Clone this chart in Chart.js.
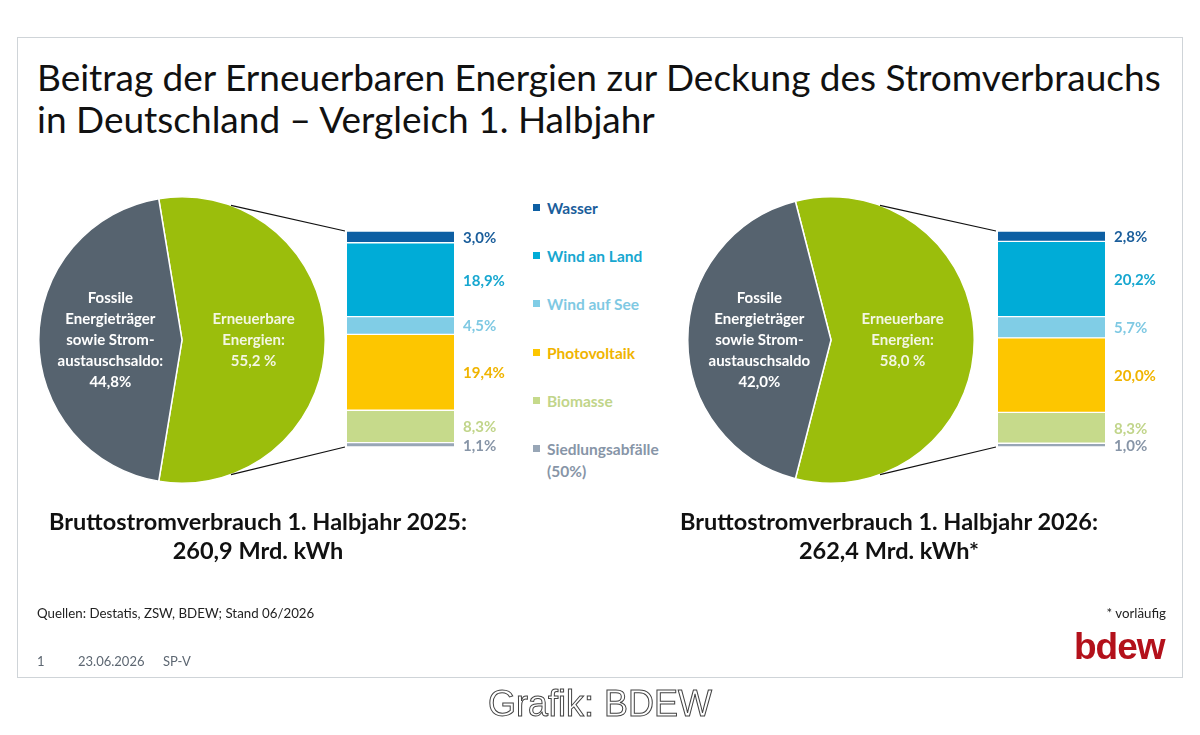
<!DOCTYPE html>
<html lang="de">
<head>
<meta charset="utf-8">
<title>Beitrag der Erneuerbaren Energien zur Deckung des Stromverbrauchs</title>
<script src="https://cdn.jsdelivr.net/npm/chart.js@4.4.1/dist/chart.umd.min.js"></script>
<style>
  body { margin: 0; width: 1200px; height: 735px; position: relative; background: #fff; overflow: hidden;
         font-family: Lato, "Open Sans", sans-serif; }
  .frame { position: absolute; left: 17px; top: 37px; width: 1164px; height: 639px; border: 1px solid #cfd4d8; }
  .abs { position: absolute; }
  canvas { position: absolute; }
  .title { left: 37px; top: 56px; font-size: 37px; line-height: 42px; color: #111; white-space: nowrap; }
  .total { width: 480px; text-align: center; font-weight: 700; font-size: 23.5px; line-height: 29px; color: #111; top: 507px; }
  .legend-item { left: 533px; font-weight: 700; font-size: 15.5px; line-height: 22px; white-space: pre-line; padding-left: 14px; }
  .legend-item span { position: absolute; left: 0; top: 7px; width: 7px; height: 7px; }
  .foot { font-size: 13.3px; color: #222; top: 605px; }
  .meta { font-size: 13px; color: #5d6772; top: 653px; }
  .logo { left: 1074px; top: 626px; font-family: "Liberation Sans", Arial, sans-serif; font-weight: 700; font-size: 37px;
          letter-spacing: -1px; color: #b3111b; }
  .credit { left: 0; width: 1200px; top: 683px; text-align: center; font-family: "Liberation Sans", Arial, sans-serif;
            font-size: 36px; color: #fff; -webkit-text-stroke: 1px #444; }
</style>
</head>
<body>
<div class="frame"></div>
<div class="abs title">Beitrag der Erneuerbaren Energien zur Deckung des Stromverbrauchs<br>in Deutschland – Vergleich 1. Halbjahr</div>

<canvas id="pie2025" width="300" height="300" style="left:32px;top:190px"></canvas>
<canvas id="bar2025" width="190" height="240" style="left:340px;top:220px"></canvas>
<canvas id="pie2026" width="300" height="300" style="left:681px;top:190px"></canvas>
<canvas id="bar2026" width="190" height="240" style="left:991px;top:220px"></canvas>
<div id="legend"></div>
<canvas id="links" width="1200" height="735" style="left:0;top:0;pointer-events:none"></canvas>

<div class="abs total" id="total2025" style="left:18px"></div>
<div class="abs total" id="total2026" style="left:649px"></div>

<div class="abs foot" style="left:37px">Quellen: Destatis, ZSW, BDEW; Stand 06/2026</div>
<div class="abs foot" style="right:34px">* vorläufig</div>
<div class="abs meta" style="left:37px">1</div>
<div class="abs meta" style="left:78px">23.06.2026</div>
<div class="abs meta" style="left:163px">SP-V</div>
<div class="abs logo">bdew</div>
<div class="abs credit">Grafik: BDEW</div>

<script>
// renewable sources, top to bottom as in the stacked bars
const sources = ["Wasser", "Wind an Land", "Wind auf See", "Photovoltaik", "Biomasse", "Siedlungsabfälle\n(50%)"];
const share2025 = [3.0, 18.9, 4.5, 19.4, 8.3, 1.1];
const share2026 = [2.8, 20.2, 5.7, 20.0, 8.3, 1.0];

// pie: renewables vs fossil (+ net exchange)
const pieParts = ["Erneuerbare Energien", "Fossile Energieträger sowie Stromaustauschsaldo"];
const pie2025 = [55.2, 44.8];
const pie2026 = [58.0, 42.0];

// label lines written inside the slices
const renewLines = ["Erneuerbare", "Energien:"];
const fossilLines2025 = ["Fossile", "Energieträger", "sowie Strom-", "austauschsaldo:"];
const fossilLines2026 = ["Fossile", "Energieträger", "sowie Strom-", "austauschsaldo"];

// gross electricity consumption, bn kWh
const years = ["2025", "2026"];
const consumption = [260.9, 262.4];
const consumptionNote = ["", "*"];

const barColors = ["#0d5fa3", "#00acd7", "#80cde6", "#fdc600", "#c6da8b", "#98a6b6"];
const textColors = ["#1b5e9b", "#17a7d0", "#7fc9e3", "#f0b400", "#c1d58a", "#8795a7"];
const pieColors = ["#9bbe0c", "#56636f"];
const pieTextColors = ["#f3f6e2", "#ffffff"];

const fmt = v => v.toFixed(1).replace(".", ",");

// draws the multi-line labels at each slice's centre point
const sliceLabels = {
  id: "sliceLabels",
  afterDatasetsDraw(chart, args, opts) {
    const ctx = chart.ctx;
    const values = chart.data.datasets[0].data;
    chart.getDatasetMeta(0).data.forEach((arc, i) => {
      const p = arc.getCenterPoint();
      const lines = opts.lines[i].concat([fmt(values[i]) + (i === 0 ? " %" : "%")]);
      ctx.save();
      ctx.fillStyle = pieTextColors[i];
      ctx.font = "bold 15px Lato";
      ctx.textAlign = "center";
      ctx.textBaseline = "middle";
      const lh = 21;
      lines.forEach((t, k) => ctx.fillText(t, p.x, p.y + (k - (lines.length - 1) / 2) * lh));
      ctx.restore();
    });
  }
};

// value labels to the right of each stacked segment
const segmentLabels = {
  id: "segmentLabels",
  afterDatasetsDraw(chart) {
    const ctx = chart.ctx;
    chart.data.datasets.forEach((ds, d) => {
      const el = chart.getDatasetMeta(d).data[0];
      ctx.save();
      ctx.fillStyle = textColors[ds.srcIndex];
      ctx.font = "bold 15px Lato";
      ctx.textAlign = "left";
      ctx.textBaseline = "middle";
      ctx.fillText(fmt(ds.data[0]) + "%", el.x + el.width / 2 + 9, (el.y + el.base) / 2 + 1);
      ctx.restore();
    });
  }
};

function makePie(id, values, fossilLines) {
  return new Chart(document.getElementById(id), {
    type: "pie",
    data: {
      labels: pieParts,
      datasets: [{ data: values, backgroundColor: pieColors, borderColor: "#fff", borderWidth: 1.5 }]
    },
    options: {
      responsive: false,
      animation: false,
      rotation: 90 - values[0] * 3.6 / 2, // renewables slice centred on the right
      layout: { padding: 6 },
      plugins: { legend: { display: false }, tooltip: { enabled: false }, sliceLabels: { lines: [renewLines, fossilLines] } }
    },
    plugins: [sliceLabels]
  });
}

function makeBar(id, values) {
  const total = values.reduce((a, b) => a + b, 0);
  const datasets = [];
  for (let i = values.length - 1; i >= 0; i--) {
    datasets.push({
      label: sources[i], srcIndex: i, data: [values[i]],
      backgroundColor: barColors[i], borderColor: "#fff",
      borderWidth: { top: 1, bottom: 1, left: 0, right: 0 }, borderSkipped: false,
      barPercentage: 1, categoryPercentage: 1
    });
  }
  return new Chart(document.getElementById(id), {
    type: "bar",
    data: { labels: [""], datasets },
    options: {
      responsive: false,
      animation: false,
      layout: { padding: { left: 7, right: 76, top: 11, bottom: 13 } },
      scales: {
        x: { stacked: true, display: false },
        y: { stacked: true, display: false, min: 0, max: total }
      },
      plugins: { legend: { display: false }, tooltip: { enabled: false } }
    },
    plugins: [segmentLabels]
  });
}

const pieA = makePie("pie2025", pie2025, fossilLines2025);
const pieB = makePie("pie2026", pie2026, fossilLines2026);
const barA = makeBar("bar2025", share2025);
const barB = makeBar("bar2026", share2026);

// middle legend
const legend = document.getElementById("legend");
sources.forEach((s, i) => {
  const div = document.createElement("div");
  div.className = "abs legend-item";
  div.style.top = (197 + i * 48.2) + "px";
  div.style.color = textColors[i];
  div.innerHTML = '<span style="background:' + barColors[i] + '"></span>';
  div.appendChild(document.createTextNode(s));
  legend.appendChild(div);
});

// totals below the pies
years.forEach((y, i) => {
  document.getElementById("total" + y).innerHTML =
    "Bruttostromverbrauch 1. Halbjahr " + y + ":<br>" + fmt(consumption[i]) + " Mrd. kWh" + consumptionNote[i];
});

// connector lines from pie to the stacked bar
function drawLinks(pie, bar) {
  const ctx = document.getElementById("links").getContext("2d");
  const pc = pie.canvas, bc = bar.canvas;
  const arc = pie.getDatasetMeta(0).data[0];
  const cx = pc.offsetLeft + arc.x, cy = pc.offsetTop + arc.y, r = arc.outerRadius;
  const metas = bar.data.datasets.map((d, k) => bar.getDatasetMeta(k).data[0]);
  const topEl = metas[metas.length - 1], botEl = metas[0];
  const bx = bc.offsetLeft + topEl.x - topEl.width / 2 - 2;
  const a1 = 20 * Math.PI / 180, a2 = 160 * Math.PI / 180;
  ctx.strokeStyle = "#111";
  ctx.lineWidth = 1.2;
  ctx.beginPath();
  ctx.moveTo(cx + r * Math.sin(a1), cy - r * Math.cos(a1));
  ctx.lineTo(bx, bc.offsetTop + topEl.y);
  ctx.moveTo(bx, bc.offsetTop + botEl.base);
  ctx.lineTo(cx + r * Math.sin(a2), cy - r * Math.cos(a2));
  ctx.stroke();
}
drawLinks(pieA, barA);
drawLinks(pieB, barB);
</script>
</body>
</html>
